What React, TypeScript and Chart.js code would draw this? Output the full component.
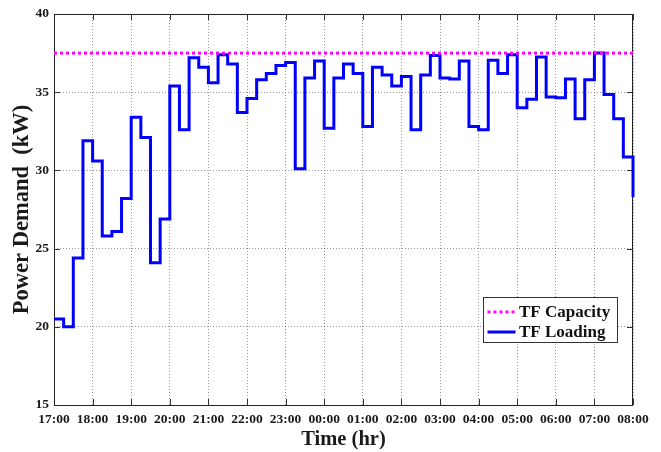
import React, { useEffect, useRef } from "react";
import { Chart, registerables } from "chart.js";

Chart.register(...registerables);

// Hour tick labels (one per hour, 17:00 -> 08:00)
const hourLabels = [
  "17:00", "18:00", "19:00", "20:00", "21:00", "22:00", "23:00", "00:00",
  "01:00", "02:00", "03:00", "04:00", "05:00", "06:00", "07:00", "08:00",
];

// Transformer loading, 15-minute steps from 17:00 to 08:00 (last value at 08:00)
const tfLoading = [
  20.5, 20.0, 24.4, 31.9, // 17:00
  30.6, 25.8, 26.1, 28.2, // 18:00
  33.4, 32.1, 24.1, 26.9, // 19:00
  35.4, 32.6, 37.2, 36.6, // 20:00
  35.6, 37.4, 36.8, 33.7, // 21:00
  34.6, 35.8, 36.2, 36.7, // 22:00
  36.9, 30.1, 35.9, 37.0, // 23:00
  32.7, 35.9, 36.8, 36.2, // 00:00
  32.8, 36.6, 36.1, 35.4, // 01:00
  36.0, 32.6, 36.1, 37.35, // 02:00
  35.9, 35.85, 37.0, 32.8, // 03:00
  32.6, 37.05, 36.2, 37.4, // 04:00
  34.0, 34.55, 37.25, 34.7, // 05:00
  34.65, 35.85, 33.3, 35.8, // 06:00
  37.5, 34.85, 33.3, 30.85, // 07:00
  28.3, // 08:00
];

const tfCapacity = 37.5;
const stepHours = 0.25;

const yMin = 15;
const yMax = 40;
const yStep = 5;

const seriesNames = ["TF Capacity", "TF Loading"];
const FONT = "'Liberation Serif', 'Times New Roman', serif";

const frameLegendPlugin = {
  id: "frameLegend",
  beforeDatasetsDraw(chart: any) {
    const { ctx, chartArea: a, scales } = chart;
    ctx.save();
    ctx.strokeStyle = "#333";
    ctx.lineWidth = 1;
    ctx.setLineDash([]);
    const ys = scales.y.ticks.map((t: any) => scales.y.getPixelForValue(t.value));
    const xs = scales.x.ticks.map((t: any) => scales.x.getPixelForValue(t.value));
    ctx.beginPath();
    for (const y of ys) {
      const yy = Math.round(y) + 0.5;
      ctx.moveTo(a.left, yy); ctx.lineTo(a.left + 6, yy);
      ctx.moveTo(a.right, yy); ctx.lineTo(a.right - 6, yy);
    }
    for (const x of xs) {
      const xx = Math.round(x) + 0.5;
      ctx.moveTo(xx, a.bottom); ctx.lineTo(xx, a.bottom - 6);
      ctx.moveTo(xx, a.top); ctx.lineTo(xx, a.top + 6);
    }
    ctx.stroke();
    ctx.strokeStyle = "#222";
    ctx.strokeRect(Math.round(a.left) + 0.5, Math.round(a.top) + 0.5,
      Math.round(a.right - a.left) - 1, Math.round(a.bottom - a.top));
    ctx.restore();
  },
  afterDatasetsDraw(chart: any) {
    const { ctx, chartArea: a } = chart;
    ctx.save();
    const bx = a.left + 429.5, by = a.top + 283.5, bw = 134, bh = 45;
    ctx.fillStyle = "#fff";
    ctx.fillRect(bx, by, bw, bh);
    ctx.strokeStyle = "#333";
    ctx.lineWidth = 1;
    ctx.strokeRect(bx, by, bw, bh);
    ctx.font = `bold 17px ${FONT}`;
    ctx.textBaseline = "middle";
    ctx.textAlign = "left";
    chart.data.datasets.forEach((ds: any, i: number) => {
      const cy = by + 14.5 + i * 20;
      ctx.strokeStyle = ds.borderColor;
      ctx.lineWidth = 3;
      ctx.setLineDash(ds.borderDash || []);
      ctx.beginPath();
      ctx.moveTo(bx + 4, cy);
      ctx.lineTo(bx + 32, cy);
      ctx.stroke();
      ctx.setLineDash([]);
      ctx.fillStyle = "#111";
      ctx.fillText(ds.label, bx + 35.5, cy + 1);
    });
    ctx.restore();
  },
};

export default function App() {
  const ref = useRef<HTMLCanvasElement | null>(null);

  useEffect(() => {
    if (!ref.current) return;
    const lastX = (tfLoading.length - 1) * stepHours;
    const chart = new Chart(ref.current, {
      type: "line",
      data: {
        datasets: [
          {
            label: seriesNames[0],
            data: [
              { x: 0, y: tfCapacity },
              { x: lastX, y: tfCapacity },
            ],
            borderColor: "#ff00ff",
            borderWidth: 3,
            borderDash: [3, 3],
            pointRadius: 0,
            fill: false,
          },
          {
            label: seriesNames[1],
            data: tfLoading.map((v, i) => ({ x: i * stepHours, y: v })),
            borderColor: "#0000ff",
            borderWidth: 3,
            stepped: "before",
            pointRadius: 0,
            fill: false,
            clip: 4,
          },
        ],
      },
      options: {
        responsive: false,
        animation: false,
        layout: { padding: { left: 0, right: 28, top: 14, bottom: 0 } },
        plugins: {
          legend: { display: false },
          tooltip: { enabled: false },
        },
        scales: {
          x: {
            type: "linear",
            min: 0,
            max: lastX,
            afterFit: (s: any) => { s.height = 47; },
            ticks: {
              stepSize: 1,
              autoSkip: false,
              maxRotation: 0,
              padding: 6,
              color: "#1a1a1a",
              font: { family: FONT, size: 13.5, weight: "bold" },
              callback: (v: any) => {
                const n = Number(v);
                return Number.isInteger(n) ? hourLabels[n] : "";
              },
            },
            grid: {
              color: "rgba(0,0,0,0.4)",
              drawTicks: false,
            },
            border: { display: false, dash: [1, 2] },
            title: {
              display: true,
              text: "Time (hr)",
              color: "#1a1a1a",
              font: { family: FONT, size: 20.5, weight: "bold" },
              padding: { top: 0, bottom: 0 },
            },
          },
          y: {
            min: yMin,
            max: yMax,
            afterFit: (s: any) => { s.width = 54; },
            ticks: {
              stepSize: yStep,
              padding: 5,
              color: "#1a1a1a",
              font: { family: FONT, size: 13.5, weight: "bold" },
            },
            grid: {
              color: "rgba(0,0,0,0.4)",
              drawTicks: false,
            },
            border: { display: false, dash: [1, 2] },
            title: {
              display: true,
              text: "Power Demand  (kW)",
              color: "#1a1a1a",
              font: { family: FONT, size: 22.5, weight: "bold" },
              padding: { top: 9, bottom: 0 },
            },
          },
        },
      },
      plugins: [frameLegendPlugin],
    });
    return () => chart.destroy();
  }, []);

  return (
    <div style={{ position: "fixed", left: 0, top: 0, width: 661, height: 452, background: "#fff" }}>
      <canvas ref={ref} width={661} height={452} />
    </div>
  );
}
